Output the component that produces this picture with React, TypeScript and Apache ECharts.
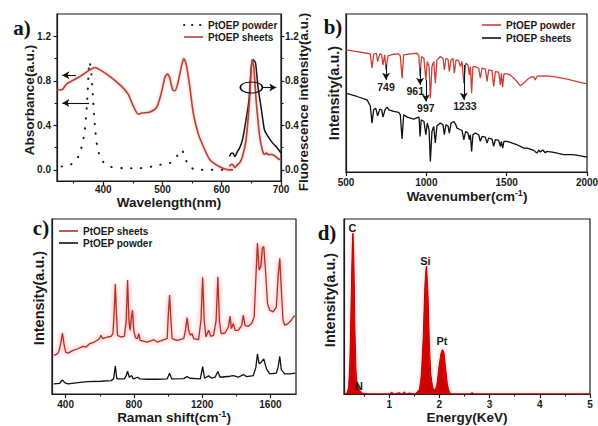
import React, { useEffect, useRef } from 'react';
import * as echarts from 'echarts';

// ---------- Panel a: absorbance / fluorescence ----------
const absSheets = [[322,0.72],[330,0.72],[338,0.77],[361,0.84],[378,0.9],[386,0.92],[394,0.9],[411,0.84],[431,0.75],[442,0.68],[451,0.57],[459,0.5],[465,0.51],[479,0.52],[490,0.56],[498,0.69],[504,0.83],[508,0.86],[512,0.83],[517,0.72],[521,0.71],[526,0.78],[532,0.93],[536,1.0],[540,0.95],[546,0.75],[552,0.51],[560,0.33],[569,0.21],[580,0.09],[591,0.045],[602,0.015],[613,0.0],[619,0.0]];
const absPowder = [[330,0.03],[344,0.045],[355,0.09],[363,0.195],[369,0.36],[373,0.63],[377,0.97],[380,0.86],[383,0.63],[386,0.39],[390,0.21],[397,0.09],[411,0.03],[434,0.015],[462,0.015],[496,0.045],[512,0.06],[524,0.12],[532,0.18],[538,0.12],[543,0.045],[557,0],[602,0]];
const flSheets = [[613,0.03],[616,0.05],[619,0.045],[622,0.02],[624,0.03],[627,0.05],[630,0.06],[635,0.12],[641,0.27],[647,0.63],[651,0.99],[654,0.93],[658,0.63],[664,0.3],[669,0.17],[672,0.14],[675,0.15],[680,0.135],[683,0.14],[686,0.135],[691,0.12],[695,0.1],[700,0.09]];
const flPowder = [[613,0.12],[616,0.15],[619,0.15],[622,0.12],[624,0.135],[627,0.17],[630,0.195],[635,0.27],[641,0.45],[646,0.63],[650,0.93],[653,0.99],[657,0.96],[661,0.75],[667,0.54],[672,0.36],[678,0.3],[686,0.24],[693,0.2],[700,0.15]];
const aXLabels = [400, 500, 600, 700];
const aXMinor = [350, 450, 550, 650];
const aYLabels = [0, 0.4, 0.8, 1.2];
const aYMinor = [0.2, 0.6, 1.0];

// ---------- Panel b: FTIR ----------
const ftirPowder = [[500,367],[568,362],[631,357],[651,355],[662,312],[672,354],[689,357],[697,332],[710,355],[722,352],[730,322],[741,352],[749,307],[761,349],[797,354],[828,355],[838,349],[849,282],[859,352],[900,355],[942,357],[953,352],[961,287],[970,347],[985,342],[997,277],[1006,332],[1017,317],[1025,222],[1035,317],[1046,332],[1056,267],[1066,337],[1087,347],[1104,342],[1112,307],[1122,342],[1135,339],[1143,302],[1154,337],[1166,342],[1174,297],[1185,337],[1201,335],[1212,317],[1222,332],[1233,267],[1245,327],[1259,322],[1268,292],[1274,317],[1282,237],[1290,317],[1305,317],[1326,312],[1336,282],[1347,312],[1367,309],[1378,272],[1388,307],[1409,305],[1419,257],[1430,302],[1450,300],[1461,262],[1467,297],[1475,255],[1483,295],[1502,295],[1523,292],[1544,282],[1564,272],[1585,259],[1606,267],[1627,277],[1648,285],[1668,287],[1678,277],[1689,288],[1751,289],[1813,285],[1876,279],[1938,272],[2000,265]];
const ftirSheets = [[500,237],[568,227],[631,217],[651,199],[662,147],[672,187],[685,192],[697,169],[710,189],[722,187],[730,165],[743,187],[755,195],[767,187],[797,182],[828,179],[838,172],[849,99],[859,172],[880,165],[921,159],[952,165],[955,162],[961,107],[968,157],[985,152],[997,112],[1006,147],[1017,127],[1025,32],[1035,122],[1046,137],[1056,87],[1066,139],[1087,147],[1104,142],[1112,112],[1122,142],[1135,139],[1143,117],[1154,147],[1170,152],[1181,145],[1191,132],[1212,127],[1222,125],[1233,97],[1245,122],[1259,117],[1268,97],[1274,112],[1282,62],[1290,112],[1305,117],[1326,112],[1336,92],[1347,107],[1367,105],[1378,87],[1388,102],[1409,99],[1419,77],[1430,97],[1450,95],[1461,77],[1467,92],[1475,72],[1483,92],[1502,92],[1523,89],[1544,85],[1564,82],[1585,77],[1606,72],[1627,72],[1648,69],[1668,65],[1680,60],[1689,57],[1700,66],[1710,60],[1725,66],[1740,58],[1751,62],[1793,59],[1855,52],[1917,52],[2000,45]];
const bXLabels = [500, 1000, 1500, 2000];
const bPeaks = [
  { label: '749', from: [749, 322], to: [749, 277], text: [749, 255] },
  { label: '961', from: [961, 312], to: [961, 262], text: [931, 245] },
  { label: '997', from: [997, 277], to: [997, 212], text: [997, 192] },
  { label: '1233', from: [1233, 322], to: [1233, 217], text: [1240, 197] },
];

// ---------- Panel c: Raman ----------
const ramanSheets = [[330,115],[346,118],[359,125],[371,150],[381,182],[390,150],[400,125],[414,122],[443,130],[472,135],[501,142],[520,140],[540,150],[569,155],[598,165],[607,175],[617,165],[646,170],[666,172],[677,180],[685,250],[691,328],[697,250],[704,175],[724,170],[744,172],[755,220],[763,340],[771,220],[778,190],[786,230],[792,250],[799,190],[809,168],[821,165],[829,180],[836,160],[879,155],[918,162],[937,155],[976,162],[995,165],[1001,230],[1009,295],[1016,230],[1024,165],[1053,160],[1092,165],[1102,190],[1112,228],[1121,190],[1131,175],[1141,180],[1150,165],[1179,162],[1193,220],[1203,348],[1212,220],[1222,170],[1238,190],[1251,172],[1267,175],[1282,220],[1292,350],[1301,220],[1311,180],[1334,182],[1354,200],[1364,232],[1371,195],[1383,210],[1393,190],[1412,190],[1432,205],[1441,235],[1451,205],[1470,202],[1490,210],[1505,230],[1515,350],[1524,450],[1534,370],[1544,380],[1553,435],[1561,440],[1571,370],[1583,270],[1596,250],[1616,245],[1635,260],[1645,350],[1655,405],[1664,310],[1674,220],[1684,205],[1703,210],[1723,220],[1737,232],[1746,232]];
const ramanPowder = [[330,30],[365,32],[381,42],[394,34],[414,30],[472,34],[530,37],[607,38],[666,40],[681,45],[691,83],[700,45],[744,45],[755,55],[763,68],[773,50],[786,55],[796,45],[821,50],[836,45],[879,44],[937,44],[995,45],[1009,62],[1022,45],[1092,46],[1112,52],[1127,47],[1189,45],[1203,82],[1214,47],[1238,54],[1257,47],[1276,50],[1292,67],[1305,50],[1364,53],[1383,55],[1412,50],[1441,58],[1461,52],[1500,55],[1515,80],[1524,120],[1534,90],[1546,95],[1561,105],[1577,75],[1596,60],[1635,62],[1645,80],[1655,112],[1664,72],[1684,60],[1713,60],[1746,62]];
const cXLabels = [400, 800, 1200, 1600];
const cXMinor = [600, 1000, 1400];

// ---------- Panel d: EDS ----------
const eds = [[0.1,0],[0.15,2],[0.19,20],[0.22,120],[0.245,300],[0.265,440],[0.277,483],[0.29,440],[0.305,330],[0.32,180],[0.34,70],[0.36,35],[0.39,22],[0.42,10],[0.47,3],[0.6,0],[1.0,0],[1.05,5],[1.1,0],[1.2,4],[1.25,0],[1.3,6],[1.35,0],[1.4,3],[1.5,0],[1.55,5],[1.6,15],[1.64,60],[1.68,180],[1.71,320],[1.74,383],[1.77,310],[1.8,160],[1.83,60],[1.87,20],[1.91,12],[1.95,30],[1.99,80],[2.03,120],[2.06,133],[2.09,125],[2.12,85],[2.16,30],[2.2,6],[2.25,0],[2.6,0],[2.65,4],[2.7,0],[5,0]];
const edsElements = [
  { name: 'C', at: [0.27, 497] },
  { name: 'Si', at: [1.72, 400] },
  { name: 'Pt', at: [2.05, 160] },
  { name: 'N', at: [0.4, 24] },
];
const dXLabels = [1, 2, 3, 4, 5];
const dXMinor = [0.5, 1.5, 2.5, 3.5, 4.5];

const FONT = '"Liberation Sans", Arial, sans-serif';
const SERIF = '"Liberation Serif", "Times New Roman", serif';
const INK = '#1a1a1a';
const RED_A = '#b04535';
const RED_B = '#cc3f37';
const RED_C = '#a8352c';

const lab = (extra: any = {}) => ({ fontSize: 10, fontWeight: 'bold', color: INK, fontFamily: FONT, ...extra });
const plain = (v: number) => String(v);

function xMain(gridIndex: number, min: number, max: number, labels: number[], margin: number) {
  return {
    type: 'value', gridIndex, min, max, position: 'bottom',
    axisLine: { show: true, onZero: false, lineStyle: { color: INK, width: 1.2 } },
    axisTick: { show: true, length: 4, customValues: labels, lineStyle: { color: INK, width: 1.2 } },
    axisLabel: lab({ show: true, customValues: labels, margin, formatter: plain }),
    splitLine: { show: false },
  };
}
function xMinor(gridIndex: number, min: number, max: number, ticks: number[]) {
  return {
    type: 'value', gridIndex, min, max, position: 'bottom',
    axisLine: { show: false, onZero: false },
    axisTick: { show: true, length: 2.5, customValues: ticks, lineStyle: { color: INK, width: 1.1 } },
    axisLabel: { show: false },
    splitLine: { show: false },
  };
}
function yPlain(gridIndex: number, min: number, max: number) {
  return {
    type: 'value', gridIndex, min, max, position: 'left',
    axisLine: { show: true, onZero: false, lineStyle: { color: INK, width: 1.2 } },
    axisTick: { show: false }, axisLabel: { show: false }, splitLine: { show: false },
  };
}
function yLabeled(gridIndex: number, position: string, labels: number[], margin: number) {
  return {
    type: 'value', gridIndex, min: -0.1, max: 1.4, position,
    axisLine: { show: true, onZero: false, lineStyle: { color: INK, width: 1.2 } },
    axisTick: { show: true, length: 3.5, customValues: labels, lineStyle: { color: INK, width: 1.2 } },
    axisLabel: lab({ show: true, customValues: labels, margin, formatter: (v: number) => v.toFixed(1) }),
    splitLine: { show: false },
  };
}
function yMinor(gridIndex: number, position: string, ticks: number[]) {
  return {
    type: 'value', gridIndex, min: -0.1, max: 1.4, position,
    axisLine: { show: false, onZero: false },
    axisTick: { show: true, length: 2.5, customValues: ticks, lineStyle: { color: INK, width: 1.1 } },
    axisLabel: { show: false }, splitLine: { show: false },
  };
}

const gridBox = (left: number, top: number, width: number, height: number) => ({
  left, top, width, height, show: true, borderColor: INK, borderWidth: 1.2,
  backgroundColor: 'transparent', containLabel: false, outerBoundsMode: 'none',
});

const titleText = (text: string, x: number, y: number, size: number, rotate = false, rich?: any) => ({
  type: 'text', x, y, rotation: rotate ? Math.PI / 2 : 0, silent: true,
  style: { text, fontSize: size, fontWeight: 'bold', fontFamily: FONT, fill: INK, align: 'center', verticalAlign: 'middle', rich },
});
const panelLabel = (text: string, x: number, y: number) => ({
  type: 'text', x, y, silent: true,
  style: { text, fontSize: 21, fontWeight: 'bold', fontFamily: SERIF, fill: '#111', align: 'center', verticalAlign: 'middle' },
});
const legendItem = (x: number, y: number, color: string, label: string, dash?: number[]) => ([
  { type: 'line', silent: true, shape: { x1: x, y1: y, x2: x + 19, y2: y }, style: { stroke: color, lineWidth: dash ? 2 : 1.6, lineDash: dash, lineCap: dash ? 'round' : 'butt' } },
  { type: 'text', x: x + 24, y, silent: true, style: { text: label, fontSize: 10, fontWeight: 'bold', fontFamily: FONT, fill: INK, align: 'left', verticalAlign: 'middle' } },
]);

const supRich = {
  sup: { fontSize: 9, fontWeight: 'bold', fontFamily: FONT, fill: INK, verticalAlign: 'top', padding: [0, 0, 6, 0] },
};

export default function App() {
  const ref = useRef<HTMLDivElement>(null);
  useEffect(() => {
    if (!ref.current) return;
    const chart = echarts.init(ref.current, null, { renderer: 'svg' });
    const arrowLine = { silent: true, symbol: ['none', 'arrow'], symbolSize: [6, 7], lineStyle: { color: '#111', width: 1.1, type: 'solid' }, label: { show: false }, emphasis: { disabled: true } };
    const option: any = {
      animation: false,
      textStyle: { fontFamily: FONT },
      grid: [
        gridBox(57, 14, 224, 167),
        gridBox(346, 14, 241, 158),
        gridBox(52, 219, 244, 175),
        gridBox(344, 219, 246, 175),
      ],
      xAxis: [
        xMain(0, 322, 700, aXLabels, 3),
        xMain(1, 500, 2000, bXLabels, 5),
        xMain(2, 320, 1750, cXLabels, 5),
        xMain(3, 0.1, 5, dXLabels, 5),
        xMinor(0, 322, 700, aXMinor),
        xMinor(2, 320, 1750, cXMinor),
        xMinor(3, 0.1, 5, dXMinor),
      ],
      yAxis: [
        yLabeled(0, 'left', aYLabels, 6),
        yLabeled(0, 'right', aYLabels, 4),
        yPlain(1, 0, 475),
        yPlain(2, 0, 522),
        yPlain(3, 0, 525),
        yMinor(0, 'left', aYMinor),
        yMinor(0, 'right', aYMinor),
      ],
      series: [
        {
          name: 'PtOEP powder', type: 'line', xAxisIndex: 0, yAxisIndex: 0, data: absPowder, showSymbol: false, smooth: 0.25,
          lineStyle: { color: '#222', width: 2.1, type: [0.4, 9.5], cap: 'round' },
        },
        {
          name: 'PtOEP sheets', type: 'line', xAxisIndex: 0, yAxisIndex: 0, data: absSheets, showSymbol: false, smooth: 0.25,
          lineStyle: { color: RED_A, width: 1.6, shadowBlur: 3, shadowColor: 'rgba(235,90,90,0.55)' },
          markLine: { ...arrowLine, data: [[{ coord: [354, 0.85] }, { coord: [331, 0.85] }], [{ coord: [376, 0.6] }, { coord: [331, 0.6] }]] },
        },
        {
          name: 'PtOEP powder (PL)', type: 'line', xAxisIndex: 0, yAxisIndex: 1, data: flPowder, showSymbol: false, smooth: 0.2,
          lineStyle: { color: '#111', width: 1.5 },
        },
        {
          name: 'PtOEP sheets (PL)', type: 'line', xAxisIndex: 0, yAxisIndex: 1, data: flSheets, showSymbol: false, smooth: 0.2,
          lineStyle: { color: RED_A, width: 1.6, shadowBlur: 3, shadowColor: 'rgba(235,90,90,0.55)' },
          markLine: { ...arrowLine, data: [[{ coord: [669, 0.74] }, { coord: [692, 0.74] }]] },
          markPoint: {
            silent: true, symbol: 'circle', symbolSize: [22, 11],
            itemStyle: { color: 'rgba(0,0,0,0)', borderColor: '#111', borderWidth: 1.3 },
            label: { show: false },
            data: [{ coord: [650, 0.74] }],
          },
        },
        {
          name: 'PtOEP powder (IR)', type: 'line', xAxisIndex: 1, yAxisIndex: 2, data: ftirPowder, showSymbol: false,
          lineStyle: { color: RED_B, width: 1.3 },
          markLine: { ...arrowLine, data: bPeaks.map(p => [{ coord: p.from }, { coord: p.to }]) },
          markPoint: {
            silent: true, symbol: 'circle', symbolSize: 1, itemStyle: { color: 'rgba(0,0,0,0)' },
            label: lab({ show: true, position: 'inside', fontSize: 10.5, formatter: (pp: any) => pp.name }),
            data: bPeaks.map(p => ({ name: p.label, coord: p.text })),
          },
        },
        {
          name: 'PtOEP sheets (IR)', type: 'line', xAxisIndex: 1, yAxisIndex: 2, data: ftirSheets, showSymbol: false,
          lineStyle: { color: '#111', width: 1.3 },
        },
        {
          name: 'PtOEP powder (Raman)', type: 'line', xAxisIndex: 2, yAxisIndex: 3, data: ramanPowder, showSymbol: false,
          lineStyle: { color: '#111', width: 1.3 },
        },
        {
          name: 'PtOEP sheets (Raman)', type: 'line', xAxisIndex: 2, yAxisIndex: 3, data: ramanSheets, showSymbol: false,
          lineStyle: { color: RED_C, width: 1.3, shadowBlur: 4, shadowColor: 'rgba(255,50,50,0.7)' },
        },
        {
          name: 'EDS', type: 'line', xAxisIndex: 3, yAxisIndex: 4, data: eds, showSymbol: false, smooth: 0.2,
          lineStyle: { color: '#b00000', width: 1, shadowBlur: 3, shadowColor: 'rgba(255,40,40,0.6)' },
          areaStyle: { color: '#cf0000', opacity: 1 },
          markPoint: {
            silent: true, symbol: 'circle', symbolSize: 1, itemStyle: { color: 'rgba(0,0,0,0)' },
            label: lab({ show: true, position: 'inside', fontSize: 11, formatter: (pp: any) => pp.name }),
            data: edsElements.map(e => ({ name: e.name, coord: e.at })),
          },
        },
      ],
      graphic: [
        panelLabel('a)', 22, 28),
        panelLabel('b)', 333, 27),
        panelLabel('c)', 41, 228),
        panelLabel('d)', 327, 233),
        titleText('Wavelength(nm)', 169, 202, 13.5),
        titleText('Absorbance(a.u.)', 29, 100, 13.5, true),
        titleText('Fluorescence intensity(a.u.)', 303, 102, 13.5, true),
        titleText('Intensity(a.u.)', 334, 93, 14.5, true),
        titleText('Wavenumber(cm{sup|-1})', 467, 196, 13.5, false, supRich),
        titleText('Intensity(a.u.)', 39, 298, 14.5, true),
        titleText('Raman shift(cm{sup|-1})', 174, 417, 13.5, false, supRich),
        titleText('Intensity(a.u.)', 330, 300, 14.5, true),
        titleText('Energy(KeV)', 467, 417, 13.5),
        ...legendItem(184, 25, '#222', 'PtOEP powder', [0.4, 7.6]),
        ...legendItem(184, 37, RED_A, 'PtOEP sheets'),
        ...legendItem(482, 25, RED_B, 'PtOEP powder'),
        ...legendItem(482, 38, '#111', 'PtOEP sheets'),
        ...legendItem(59, 231, RED_C, 'PtOEP sheets'),
        ...legendItem(59, 243, '#111', 'PtOEP powder'),
      ],
    };
    chart.setOption(option);
    return () => chart.dispose();
  }, []);
  return (
    <div style={{ position: 'fixed', left: 0, top: 0, width: 598, height: 426, background: '#fff' }}>
      <div ref={ref} style={{ width: 598, height: 426 }} />
    </div>
  );
}
